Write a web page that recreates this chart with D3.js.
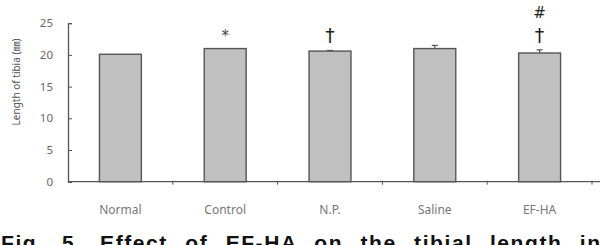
<!DOCTYPE html>
<html><head><meta charset="utf-8">
<script src="https://cdn.jsdelivr.net/npm/d3@7"></script>
<style>body{margin:0;background:#fff;}svg{display:block;}</style>
</head><body>
<script>
const categories = ["Normal", "Control", "N.P.", "Saline", "EF-HA"];
const values = [20.1, 21.0, 20.6, 21.0, 20.3];
const errors = [0, 0, 0.1, 0.5, 0.5];
const marks = [[], ["*"], ["†"], [], ["#", "†"]];
const yTicks = [0, 5, 10, 15, 20, 25];
const yLabel = "Length of tibia (㎜)";
const caption = "Fig. 5. Effect of EF-HA on the tibial length in";

const W = 602, H = 245;
const svg = d3.select("body").append("svg").attr("width", W).attr("height", H);

const x = d3.scaleBand().domain(categories).range([68, 592]).padding(0);
const y = d3.scaleLinear().domain([0, 25]).range([181.7, 23.2]);
const barW = x.bandwidth() * 0.4;
const grey = "#555";

// y axis
const ya = svg.append("g").attr("transform", "translate(68,0)")
  .call(d3.axisLeft(y).tickValues(yTicks).tickSize(-4).tickPadding(15));
ya.select(".domain").attr("stroke", grey).attr("stroke-width", 1.3);
ya.selectAll(".tick line").attr("stroke", grey).attr("stroke-width", 1);
ya.selectAll(".tick text").attr("fill", "#666").attr("font-size", 11.5)
  .attr("font-family", "'Noto Sans', sans-serif");

// bars
const g = svg.append("g");
g.selectAll("rect").data(categories).join("rect")
  .attr("x", (d) => x(d) + (x.bandwidth() - barW) / 2)
  .attr("width", barW)
  .attr("y", (d, i) => y(values[i]))
  .attr("height", (d, i) => y(0) - y(values[i]))
  .attr("fill", "#c0c0c0").attr("stroke", grey).attr("stroke-width", 1.4);

// error bars
categories.forEach((c, i) => {
  if (!errors[i]) return;
  const cx = x(c) + x.bandwidth() / 2;
  g.append("line").attr("x1", cx).attr("x2", cx)
    .attr("y1", y(values[i])).attr("y2", y(values[i] + errors[i]))
    .attr("stroke", grey).attr("stroke-width", 1.2);
  g.append("line").attr("x1", cx - 3).attr("x2", cx + 3)
    .attr("y1", y(values[i] + errors[i])).attr("y2", y(values[i] + errors[i]))
    .attr("stroke", grey).attr("stroke-width", 1.2);
});

// x axis
svg.append("line").attr("x1", 68).attr("x2", 600).attr("y1", y(0)).attr("y2", y(0))
  .attr("stroke", grey).attr("stroke-width", 1.3);
svg.append("g").selectAll("line").data(categories).join("line")
  .attr("x1", (d) => x(d) + x.bandwidth()).attr("x2", (d) => x(d) + x.bandwidth())
  .attr("y1", y(0) - 1).attr("y2", y(0) + 3)
  .attr("stroke", grey).attr("stroke-width", 1);

// category labels
svg.append("g").selectAll("text").data(categories).join("text")
  .attr("x", (d) => x(d) + x.bandwidth() / 2).attr("y", 214)
  .attr("text-anchor", "middle").attr("font-size", 12).attr("fill", "#777")
  .attr("font-family", "'Noto Sans', sans-serif").text((d) => d);

// significance marks
categories.forEach((c, i) => {
  const cx = x(c) + x.bandwidth() / 2;
  const top = y(values[i] + errors[i]);
  const m = marks[i];
  m.forEach((s, k) => {
    const fromTop = m.length - 1 - k;
    const isStar = s === "*";
    svg.append("text").attr("x", cx)
      .attr("y", isStar ? top - 8 : top - 8 - fromTop * 24)
      .attr("text-anchor", "middle")
      .attr("font-size", isStar ? 15 : (s === "#" ? 15 : 19))
      .attr("font-family", "'DejaVu Sans', sans-serif")
      .attr("fill", isStar ? "#444" : "#222")
      .text(s);
  });
});

// y label
svg.append("text").attr("transform", "translate(20," + 82 + ") rotate(-90)")
  .attr("text-anchor", "middle").attr("font-size", 10).attr("fill", "#555")
  .attr("font-family", "'Noto Sans', 'Noto Sans CJK KR', sans-serif").text(yLabel);

// caption (cut off at the bottom edge as in the reference)
svg.append("text").attr("x", 1).attr("y", 250)
  .attr("font-size", 21).attr("font-weight", "bold").attr("fill", "#111")
  .attr("font-family", "'Liberation Sans', Arial, sans-serif")
  .attr("word-spacing", 10)
  .attr("textLength", 599).attr("lengthAdjust", "spacing")
  .text(caption);
</script>
</body></html>
